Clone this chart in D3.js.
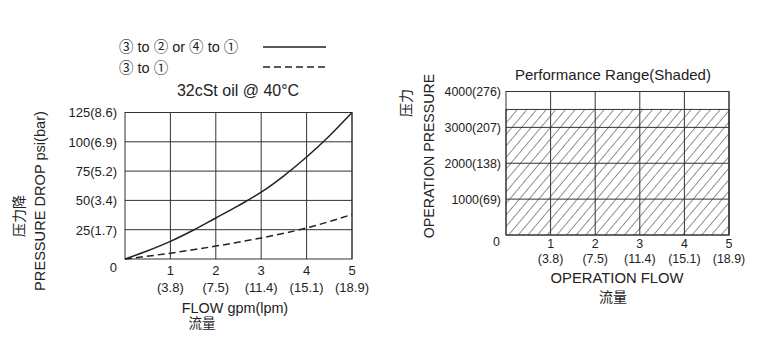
<!DOCTYPE html>
<html>
<head>
<meta charset="utf-8">
<script src="https://cdn.jsdelivr.net/npm/d3@7"></script>
<style>
  body { margin: 0; background: #fff; }
  svg text { font-family: "Liberation Sans", Arial, "Noto Sans CJK SC", sans-serif; fill: #222; }
</style>
</head>
<body>
<svg id="chart" width="763" height="349"></svg>
<script>
// Flow ticks (gpm) with litres-per-minute equivalents
const flowTicks = [1, 2, 3, 4, 5];
const flowLpm = ["(3.8)", "(7.5)", "(11.4)", "(15.1)", "(18.9)"];

// Pressure-drop ticks (psi) with bar equivalents
const dropTicks = [25, 50, 75, 100, 125];
const dropBar = ["25(1.7)", "50(3.4)", "75(5.2)", "100(6.9)", "125(8.6)"];

// Pressure-drop curves: [flow gpm, drop psi]
const curveA = [[0, 0], [0.5, 7], [1, 15], [1.5, 24.5], [2, 35], [2.5, 45.5], [3, 57], [3.5, 71], [4, 87], [4.5, 105], [5, 125]];
const curveB = [[0, 0], [1, 5], [2, 11], [3, 18], [4, 26.5], [5, 38]];

// Operating range ticks (psi) with bar equivalents
const rangeTicks = [1000, 2000, 3000, 4000];
const rangeBar = ["1000(69)", "2000(138)", "3000(207)", "4000(276)"];
const maxPressure = 3500;
const maxFlow = 5;

const svg = d3.select("#chart");
const defs = svg.append("defs");
defs.append("pattern")
  .attr("id", "hatch")
  .attr("patternUnits", "userSpaceOnUse")
  .attr("width", 7.4).attr("height", 7.4)
  .attr("patternTransform", "rotate(40)")
  .append("line")
  .attr("x1", 0).attr("y1", 0).attr("x2", 0).attr("y2", 7.4)
  .attr("stroke", "#222").attr("stroke-width", 1);

// ---------- Left chart: pressure drop vs flow ----------
const x1 = d3.scaleLinear().domain([0, 5]).range([125, 352]);
const y1 = d3.scaleLinear().domain([0, 125]).range([259, 112.5]);
const g1 = svg.append("g");

// grid
g1.append("g").selectAll("line").data(flowTicks).join("line")
  .attr("x1", d => x1(d)).attr("x2", d => x1(d))
  .attr("y1", y1(0)).attr("y2", y1(125))
  .attr("stroke", "#333").attr("stroke-width", 1);
g1.append("g").selectAll("line").data(dropTicks).join("line")
  .attr("x1", x1(0)).attr("x2", x1(5))
  .attr("y1", d => y1(d)).attr("y2", d => y1(d))
  .attr("stroke", "#333").attr("stroke-width", 1);
g1.append("rect")
  .attr("x", x1(0)).attr("y", y1(125))
  .attr("width", x1(5) - x1(0)).attr("height", y1(0) - y1(125))
  .attr("fill", "none").attr("stroke", "#333").attr("stroke-width", 1);

// y tick labels
g1.append("g").selectAll("text").data(dropTicks).join("text")
  .attr("x", 117).attr("y", d => y1(d) + 4.8)
  .attr("text-anchor", "end").attr("font-size", 13)
  .text((d, i) => dropBar[i]);
g1.append("text").attr("x", 117).attr("y", 272).attr("text-anchor", "end")
  .attr("font-size", 13).text("0");

// x tick labels
g1.append("g").selectAll("text").data(flowTicks).join("text")
  .attr("x", d => x1(d)).attr("y", 275)
  .attr("text-anchor", "middle").attr("font-size", 13)
  .text(d => d);
g1.append("g").selectAll("text").data(flowTicks).join("text")
  .attr("x", d => x1(d)).attr("y", 291.5)
  .attr("text-anchor", "middle").attr("font-size", 13)
  .text((d, i) => flowLpm[i]);

// curves
const line1 = d3.line().x(d => x1(d[0])).y(d => y1(d[1])).curve(d3.curveMonotoneX);
g1.append("path").datum(curveA).attr("d", line1)
  .attr("fill", "none").attr("stroke", "#222").attr("stroke-width", 1.5);
g1.append("path").datum(curveB).attr("d", line1)
  .attr("fill", "none").attr("stroke", "#222").attr("stroke-width", 1.5)
  .attr("stroke-dasharray", "7,4");

// axis titles
g1.append("text").attr("x", 235).attr("y", 313).attr("text-anchor", "middle")
  .attr("font-size", 14.4).text("FLOW gpm(lpm)");
g1.append("text").attr("x", 202).attr("y", 328).attr("text-anchor", "middle")
  .attr("font-size", 13.5).text("流量");
g1.append("text").attr("transform", "translate(45,201) rotate(-90)")
  .attr("text-anchor", "middle").attr("font-size", 14.6).text("PRESSURE DROP psi(bar)");
g1.append("text").attr("transform", "translate(24,216) rotate(-90)")
  .attr("text-anchor", "middle").attr("font-size", 14).text("压力降");

// legend and title
g1.append("text").attr("x", 119).attr("y", 52).attr("font-size", 14.5).text("③ to ② or ④ to ①");
g1.append("line").attr("x1", 263).attr("x2", 326).attr("y1", 47).attr("y2", 47)
  .attr("stroke", "#222").attr("stroke-width", 1.5);
g1.append("text").attr("x", 119).attr("y", 73).attr("font-size", 14.5).text("③ to ①");
g1.append("line").attr("x1", 263).attr("x2", 327).attr("y1", 67).attr("y2", 67)
  .attr("stroke", "#222").attr("stroke-width", 1.5).attr("stroke-dasharray", "7,4");
g1.append("text").attr("x", 238).attr("y", 96).attr("text-anchor", "middle")
  .attr("font-size", 16).text("32cSt oil @ 40°C");

// ---------- Right chart: operating range ----------
const x2 = d3.scaleLinear().domain([0, 5]).range([506, 729]);
const y2 = d3.scaleLinear().domain([0, 4000]).range([235, 91.5]);
const g2 = svg.append("g");

g2.append("rect")
  .attr("x", x2(0)).attr("y", y2(maxPressure))
  .attr("width", x2(maxFlow) - x2(0)).attr("height", y2(0) - y2(maxPressure))
  .attr("fill", "url(#hatch)").attr("stroke", "#333").attr("stroke-width", 1);
g2.append("g").selectAll("line").data(flowTicks).join("line")
  .attr("x1", d => x2(d)).attr("x2", d => x2(d))
  .attr("y1", y2(0)).attr("y2", y2(4000))
  .attr("stroke", "#333").attr("stroke-width", 1);
g2.append("g").selectAll("line").data(rangeTicks).join("line")
  .attr("x1", x2(0)).attr("x2", x2(5))
  .attr("y1", d => y2(d)).attr("y2", d => y2(d))
  .attr("stroke", "#333").attr("stroke-width", 1);
g2.append("rect")
  .attr("x", x2(0)).attr("y", y2(4000))
  .attr("width", x2(5) - x2(0)).attr("height", y2(0) - y2(4000))
  .attr("fill", "none").attr("stroke", "#333").attr("stroke-width", 1);

g2.append("g").selectAll("text").data(rangeTicks).join("text")
  .attr("x", 501).attr("y", d => y2(d) + 4.5)
  .attr("text-anchor", "end").attr("font-size", 12.4)
  .text((d, i) => rangeBar[i]);
g2.append("text").attr("x", 500).attr("y", 246).attr("text-anchor", "end")
  .attr("font-size", 12.4).text("0");

g2.append("g").selectAll("text").data(flowTicks).join("text")
  .attr("x", d => x2(d)).attr("y", 248)
  .attr("text-anchor", "middle").attr("font-size", 12.4)
  .text(d => d);
g2.append("g").selectAll("text").data(flowTicks).join("text")
  .attr("x", d => x2(d)).attr("y", 263)
  .attr("text-anchor", "middle").attr("font-size", 12.4)
  .text((d, i) => flowLpm[i]);

g2.append("text").attr("x", 617).attr("y", 283).attr("text-anchor", "middle")
  .attr("font-size", 14.8).text("OPERATION FLOW");
g2.append("text").attr("x", 613).attr("y", 302).attr("text-anchor", "middle")
  .attr("font-size", 14).text("流量");
g2.append("text").attr("x", 613).attr("y", 80).attr("text-anchor", "middle")
  .attr("font-size", 15).text("Performance Range(Shaded)");
g2.append("text").attr("transform", "translate(434,156) rotate(-90)")
  .attr("text-anchor", "middle").attr("font-size", 14.2).text("OPERATION PRESSURE");
g2.append("text").attr("transform", "translate(411,103) rotate(-90)")
  .attr("text-anchor", "middle").attr("font-size", 14).text("压力");
</script>
</body>
</html>
